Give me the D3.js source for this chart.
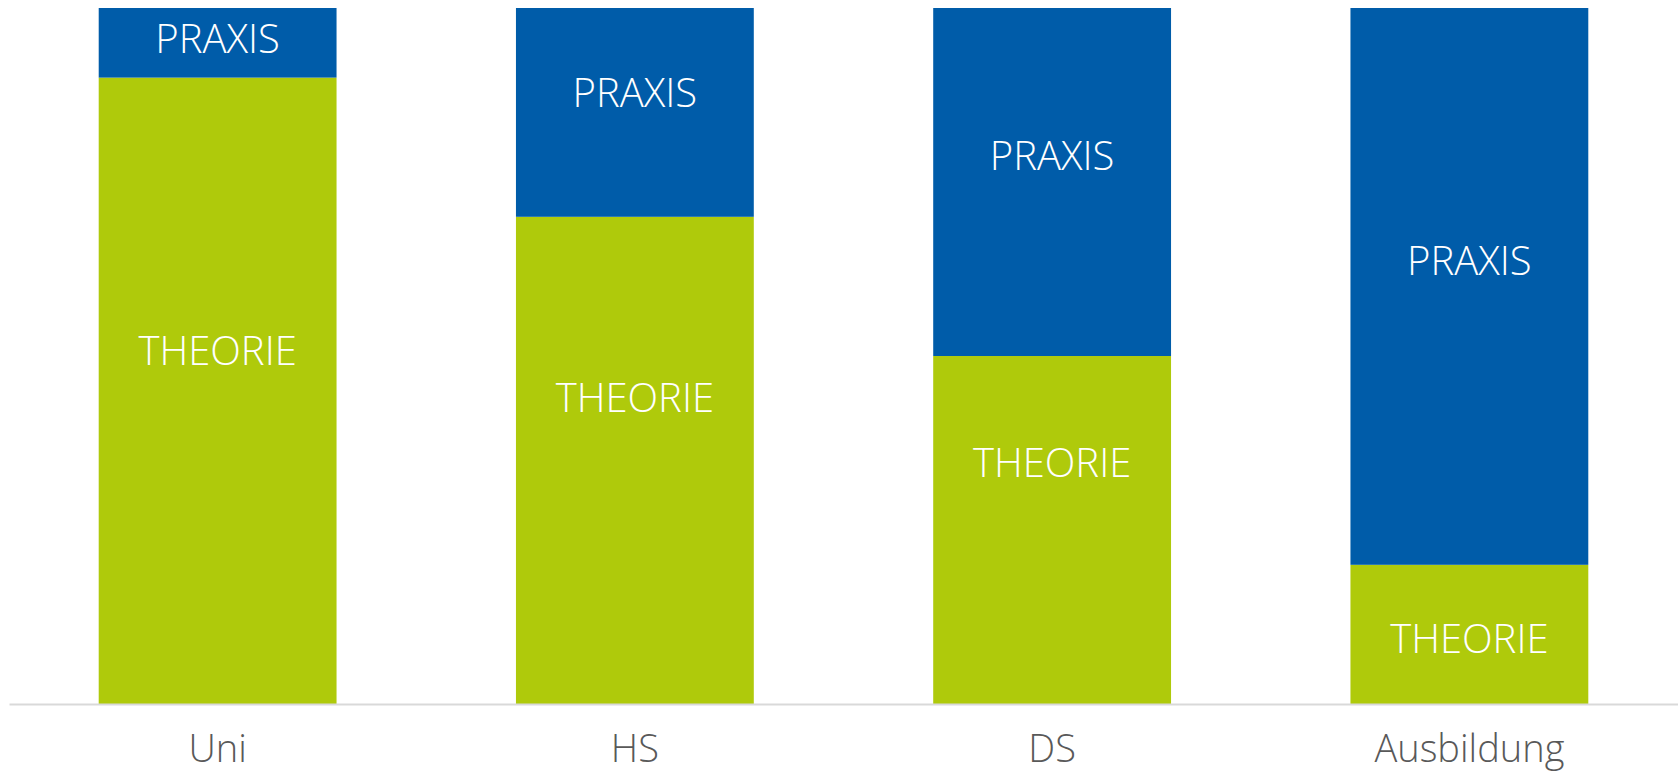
<!DOCTYPE html>
<html>
<head>
<meta charset="utf-8">
<script src="https://cdn.jsdelivr.net/npm/d3@7"></script>
<style>
  html, body { margin: 0; padding: 0; background: #ffffff; }
  svg { display: block; }
  text { font-family: "Open Sans", Lato, "DejaVu Sans", sans-serif; }
</style>
</head>
<body>
<div id="chart"></div>
<script>
// Anteil Theorie / Praxis je Ausbildungsweg (in %)
const categories = ['Uni', 'HS', 'DS', 'Ausbildung'];
const theorie = [90, 70, 50, 20];
const praxis = [10, 30, 50, 80];
// where the segment labels sit (baseline, in % of the bar)
const theorieLabelAt = [48.7, 42.0, 32.6, 7.3];
const praxisLabelAt = [93.5, 85.8, 76.7, 61.6];

const width = 1678;
const height = 774;
const colors = { theorie: '#AFCA0B', praxis: '#005CA9' };

const svg = d3.select('#chart')
    .append('svg')
    .attr('width', width)
    .attr('height', height);

const x = d3.scaleBand()
    .domain(categories)
    .range([9, width])
    .paddingInner(0.43)
    .paddingOuter(0.215);

const y = d3.scaleLinear()
    .domain([0, 100])
    .range([704, 8]);

const rows = categories.map((c, i) => ({
    cat: c,
    theorie: theorie[i],
    praxis: praxis[i],
    tLabel: theorieLabelAt[i],
    pLabel: praxisLabelAt[i]
}));

const stack = d3.stack().keys(['theorie', 'praxis'])(rows);

// Bars
svg.append('g')
    .selectAll('g')
    .data(stack)
    .enter()
    .append('g')
    .attr('fill', d => colors[d.key])
    .selectAll('rect')
    .data(d => d)
    .enter()
    .append('rect')
    .attr('x', d => x(d.data.cat))
    .attr('y', d => y(d[1]))
    .attr('width', x.bandwidth())
    .attr('height', d => y(d[0]) - y(d[1]));

// Segment labels
const labels = svg.append('g')
    .attr('fill', '#ffffff')
    .attr('text-anchor', 'middle')
    .style('font-size', '40px')
    .style('font-weight', '300');

labels.selectAll('.praxis-label')
    .data(rows)
    .enter()
    .append('text')
    .attr('class', 'praxis-label')
    .attr('x', d => x(d.cat) + x.bandwidth() / 2)
    .attr('y', d => y(d.pLabel))
    .text('PRAXIS');

labels.selectAll('.theorie-label')
    .data(rows)
    .enter()
    .append('text')
    .attr('class', 'theorie-label')
    .attr('x', d => x(d.cat) + x.bandwidth() / 2)
    .attr('y', d => y(d.tLabel))
    .text('THEORIE');

// X axis
const xAxis = svg.append('g')
    .attr('transform', `translate(0,${y(0)})`)
    .call(d3.axisBottom(x).tickSize(0).tickPadding(31));

xAxis.select('.domain')
    .attr('stroke', '#D9D9D9')
    .attr('stroke-width', 2);

xAxis.selectAll('text')
    .attr('fill', '#595959')
    .style('font-family', '"Open Sans", Lato, "DejaVu Sans", sans-serif')
    .style('font-size', '38px')
    .style('font-weight', '300');
</script>
</body>
</html>
